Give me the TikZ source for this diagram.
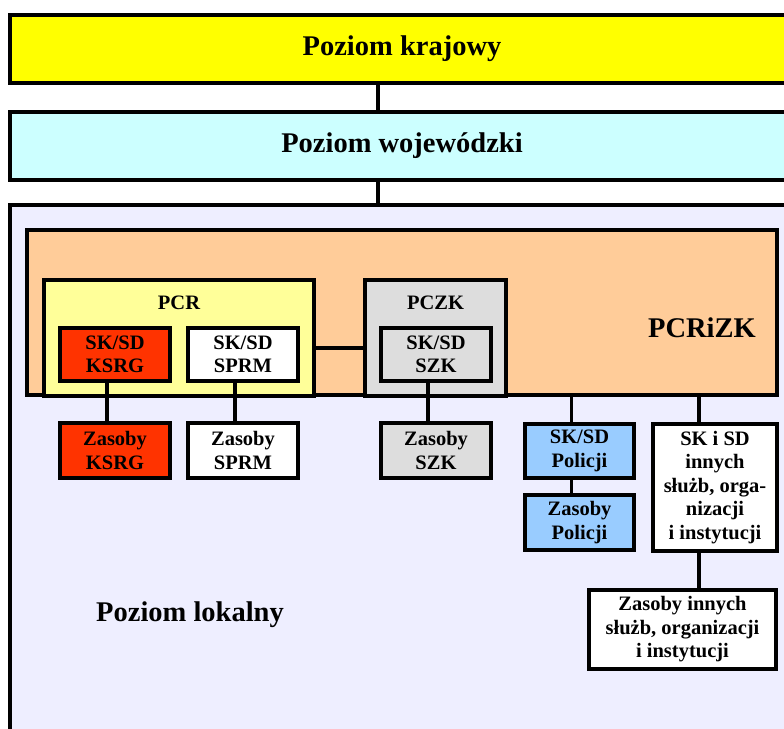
\documentclass[tikz,border=0pt]{standalone}
\usepackage{fontspec}
\setmainfont{Liberation Serif}
\usetikzlibrary{positioning}

\definecolor{krajY}{HTML}{FFFF00}
\definecolor{wojC}{HTML}{CCFFFF}
\definecolor{lokL}{HTML}{EEEEFF}
\definecolor{zkO}{HTML}{FFCC99}
\definecolor{pcrY}{HTML}{FFFF99}
\definecolor{szkG}{HTML}{DDDDDD}
\definecolor{ksrgR}{HTML}{FF3300}
\definecolor{polB}{HTML}{99CCFF}

\newcommand{\bigfont}{\bfseries\fontsize{28.5}{32}\selectfont}
\newcommand{\boxfont}{\bfseries\fontsize{20.5}{23.5}\selectfont}

\begin{document}
\begin{tikzpicture}[
  x=1pt, y=-1pt,
  level/.style={rectangle, draw=black, line width=3.6pt, inner sep=0pt, font=\bigfont},
  group/.style={rectangle, draw=black, line width=3.6pt, inner sep=0pt},
  unit/.style={rectangle, draw=black, line width=3.6pt, inner sep=0pt, align=center, font=\boxfont},
  link/.style={draw=black, line width=3.6pt}
]
\useasboundingbox (0,0) rectangle (784,728);

% levels
\node[level, fill=krajY, minimum width=784.5pt, minimum height=68.5pt] (kraj) at (402,49) {Poziom krajowy};
\node[level, fill=wojC, minimum width=784.5pt, minimum height=68.5pt] (woj) at (402,146) {Poziom wojewódzki};
\node[level, fill=lokL, minimum width=784.5pt, minimum height=535pt] (lok) at (402,472.5) {};
\node[font=\bigfont] (lokTxt) at (190,615) {Poziom lokalny};

% PCRiZK
\node[group, fill=zkO, minimum width=750.5pt, minimum height=165.5pt] (pcrizk) at (402,312.5) {};
\node[font=\bigfont] (pcrizkTxt) at (702,328) {PCRiZK};

\node[group, fill=pcrY, minimum width=270.5pt, minimum height=116.5pt] (pcr) at (179,338) {};
\node[font=\boxfont] (pcrTxt) at (179,303) {PCR};
\node[group, fill=szkG, minimum width=141.5pt, minimum height=116.5pt] (pczk) at (435.5,338) {};
\node[font=\boxfont] (pczkTxt) at (435.5,303) {PCZK};

\node[unit, fill=ksrgR, minimum width=110.5pt, minimum height=53.5pt] (ksrg) at (115,354.5) {SK/SD\\KSRG};
\node[unit, fill=white, minimum width=110.5pt, minimum height=53.5pt] (sprm) at (243,354.5) {SK/SD\\SPRM};
\node[unit, fill=szkG, minimum width=110.5pt, minimum height=53.5pt] (szk) at (436,354.5) {SK/SD\\SZK};

% zasoby
\node[unit, fill=ksrgR, minimum width=110.5pt, minimum height=55.5pt] (zksrg) at (115,450.5) {Zasoby\\KSRG};
\node[unit, fill=white, minimum width=110.5pt, minimum height=55.5pt] (zsprm) at (243,450.5) {Zasoby\\SPRM};
\node[unit, fill=szkG, minimum width=110.5pt, minimum height=55.5pt] (zszk) at (436,450.5) {Zasoby\\SZK};

\node[unit, fill=polB, minimum width=109.5pt, minimum height=54.5pt] (pol) at (579.5,451) {SK/SD\\Policji};
\node[unit, fill=polB, minimum width=109.5pt, minimum height=55.5pt] (zpol) at (579.5,522.5) {Zasoby\\Policji};

\node[unit, fill=white, minimum width=124.5pt, minimum height=127.5pt] (inn) at (715,487.5) {SK i SD\\innych\\służb, orga-\\nizacji\\i instytucji};
\node[unit, fill=white, minimum width=187.5pt, minimum height=79.5pt] (zinn) at (682.5,629.5) {Zasoby innych\\służb, organizacji\\i instytucji};

% connectors
\draw[link] ([xshift=-24pt]kraj.south) -- ([xshift=-24pt]woj.north);
\draw[link] ([xshift=-24pt]woj.south) -- ([xshift=-24pt]lok.north);
\draw[link] ([yshift=-10pt]pcr.east) -- ([yshift=-10pt]pczk.west);
\draw[link] ([xshift=-8pt]ksrg.south) -- ([xshift=-8pt]zksrg.north);
\draw[link] ([xshift=-8pt]sprm.south) -- ([xshift=-8pt]zsprm.north);
\draw[link] ([xshift=-8pt]szk.south) -- ([xshift=-8pt]zszk.north);
\draw[link] ([xshift=-8pt]pol.north) -- ([xshift=-8pt]pol.north |- pcrizk.south);
\draw[link] ([xshift=-8pt]pol.south) -- ([xshift=-8pt]zpol.north);
\draw[link] ([xshift=-16pt]inn.north) -- ([xshift=-16pt]inn.north |- pcrizk.south);
\draw[link] ([xshift=-16pt]inn.south) -- ([xshift=-16pt]inn.south |- zinn.north);

\end{tikzpicture}
\end{document}
